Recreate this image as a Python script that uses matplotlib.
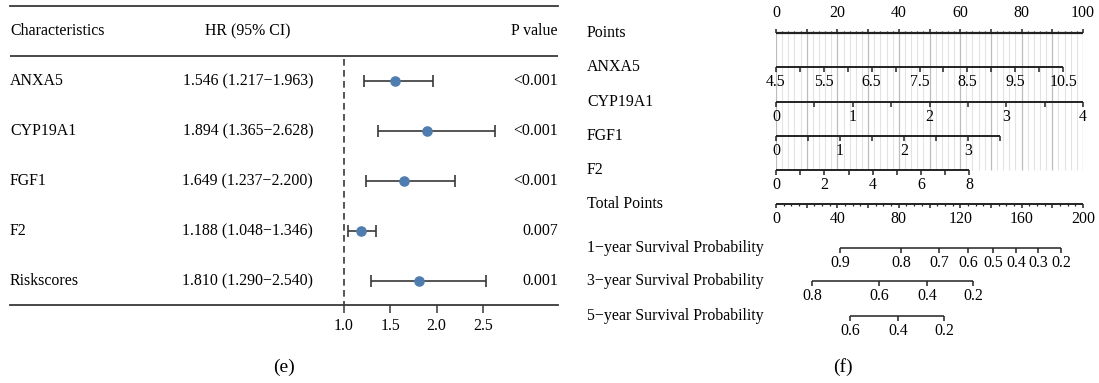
import numpy as np
import matplotlib.pyplot as plt
from matplotlib.transforms import blended_transform_factory

plt.rcParams['font.family'] = ['Liberation Serif', 'DejaVu Serif']

W, H = 1099, 383

# ---- forest plot data (e)
genes = ['ANXA5', 'CYP19A1', 'FGF1', 'F2', 'Riskscores']
hr = [1.546, 1.894, 1.649, 1.188, 1.810]
hr_low = [1.217, 1.365, 1.237, 1.048, 1.290]
hr_high = [1.963, 2.628, 2.200, 1.346, 2.540]
pvals = ['<0.001', '<0.001', '<0.001', '0.007', '0.001']
hr_ticks = [1.0, 1.5, 2.0, 2.5]

# ---- nomogram data (f)
points_labels = [0, 20, 40, 60, 80, 100]
anxa5_ticks = [4.5, 5.0, 5.5, 6.0, 6.5, 7.0, 7.5, 8.0, 8.5, 9.0, 9.5, 10.0, 10.5]
anxa5_labels = [4.5, 5.5, 6.5, 7.5, 8.5, 9.5, 10.5]
anxa5_maxpts = 93.5
cyp_ticks = [0, 0.5, 1, 1.5, 2, 2.5, 3, 3.5, 4]
cyp_labels = [0, 1, 2, 3, 4]
cyp_maxpts = 100
fgf1_ticks = [0, 0.5, 1, 1.5, 2, 2.5, 3, 3.5]
fgf1_labels = [0, 1, 2, 3]
fgf1_maxpts = 73
f2_ticks = [0, 1, 2, 3, 4, 5, 6, 7, 8]
f2_labels = [0, 2, 4, 6, 8]
f2_maxpts = 63
total_labels = [0, 40, 80, 120, 160, 200]
total_max = 200
surv1_prob = [0.9, 0.8, 0.7, 0.6, 0.5, 0.4, 0.3, 0.2]
surv1_total = [41.7, 81.4, 106.2, 125.0, 141.3, 156.3, 170.7, 185.7]
surv3_prob = [0.8, 0.6, 0.4, 0.2]
surv3_total = [23.5, 67.0, 98.4, 128.3]
surv5_prob = [0.6, 0.4, 0.2]
surv5_total = [48.2, 79.5, 109.4]

row_names = ['Points', 'ANXA5', 'CYP19A1', 'FGF1', 'F2', 'Total Points',
             '1\u2212year Survival Probability', '3\u2212year Survival Probability',
             '5\u2212year Survival Probability']

FS = 11.4
LC = '#383838'
DOT = '#4f7db0'

fig = plt.figure(figsize=(W / 100, H / 100), dpi=100)


def fbox(x0, y0, x1, y1):
  return [x0 / W, 1 - y1 / H, (x1 - x0) / W, (y1 - y0) / H]


# ================= (e) forest plot =================
ax1 = fig.add_axes(fbox(10, 6, 558, 305))
ax1.set_xlim(1 - 334 / 92.5, 1 + 214 / 92.5)
ax1.set_ylim(4.48, -1.5)
for s in ['left', 'right']:
  ax1.spines[s].set_visible(False)
for s in ['top', 'bottom']:
  ax1.spines[s].set_color(LC)
  ax1.spines[s].set_linewidth(1.3)
ax1.axhline(-0.5, color=LC, lw=1.3)
ax1.vlines(1.0, -0.45, 4.48, colors=LC, linestyles=(0, (4, 2.6)), lw=1.2)
rows = np.arange(len(genes))
hr_a = np.array(hr)
err = [hr_a - np.array(hr_low), np.array(hr_high) - hr_a]
ax1.errorbar(hr, rows, xerr=err, fmt='o', color=DOT, markersize=6.6,
             ecolor=LC, elinewidth=1.2, capsize=4.2, capthick=1.2, zorder=3)
ax1.set_yticks([])
ax1.set_xticks(hr_ticks)
ax1.set_xticklabels(['%.1f' % t for t in hr_ticks], fontsize=FS)
ax1.tick_params(axis='x', direction='out', length=5.5, width=1.1, color=LC, pad=4)

tr1 = blended_transform_factory(ax1.transAxes, ax1.transData)
ax1.text(0, -1, 'Characteristics', transform=tr1, fontsize=FS, va='center', ha='left')
ax1.text(0.434, -1, 'HR (95% CI)', transform=tr1, fontsize=FS, va='center', ha='center')
ax1.text(1, -1, 'P value', transform=tr1, fontsize=FS, va='center', ha='right')
for i, g in enumerate(genes):
  ax1.text(0, i, g, transform=tr1, fontsize=FS, va='center', ha='left')
  ax1.text(0.434, i, '%.3f (%.3f\u2212%.3f)' % (hr[i], hr_low[i], hr_high[i]),
           transform=tr1, fontsize=FS, va='center', ha='center')
  ax1.text(1, i, pvals[i], transform=tr1, fontsize=FS, va='center', ha='right')

fig.text(284 / W, 1 - 367 / H, '(e)', fontsize=14, ha='center', va='center')

# ================= (f) nomogram =================
ax2 = fig.add_axes(fbox(776, 0, 1083, H))
ax2.set_xlim(0, 100)
ax2.set_ylim(H, 0)
ax2.axis('off')

row_y = [33, 67, 102, 136, 170, 204, 248, 281, 316]

# grid lines
minor = [p for p in range(0, 101, 2) if p % 10]
major = list(range(0, 101, 10))
ax2.vlines(minor, row_y[0], row_y[4], colors='#e3e3e3', lw=0.8, zorder=0)
ax2.vlines(major, row_y[0], row_y[4], colors='#bdbdbd', lw=0.9, zorder=0)

trl = blended_transform_factory(fig.transFigure, ax2.transData)
for name, y in zip(row_names, row_y):
  ax2.text(587 / W, y, name, transform=trl, fontsize=FS, va='center', ha='left')


def scale_row(y, tick_pts, lab_pts, labels, tlen=5, up=False, lw=1.4, minor_pts=None):
  ax2.hlines(y, min(tick_pts + (minor_pts or [])), max(tick_pts + (minor_pts or [])),
             colors='#222222', lw=lw, clip_on=False)
  d = -1 if up else 1
  ax2.vlines(tick_pts, y, y + d * tlen, colors='#222222', lw=1.1, clip_on=False)
  if minor_pts:
    ax2.vlines(minor_pts, y, y + d * tlen * 0.6, colors='#222222', lw=0.9, clip_on=False)
  for p, l in zip(lab_pts, labels):
    ax2.text(p, y + (-20 if up else 15), l, fontsize=FS, ha='center', va='center',
             clip_on=False)


def to_pts(vals, ticks, maxpts):
  lo, hi = ticks[0], ticks[-1]
  return [(v - lo) / (hi - lo) * maxpts for v in vals]


# Points axis
scale_row(row_y[0], list(range(0, 101, 10)), points_labels, [str(p) for p in points_labels],
          tlen=4, up=True, lw=1.6, minor_pts=minor)
# variable axes
scale_row(row_y[1], to_pts(anxa5_ticks, anxa5_ticks, anxa5_maxpts),
          to_pts(anxa5_labels, anxa5_ticks, anxa5_maxpts), ['%g' % v for v in anxa5_labels])
scale_row(row_y[2], to_pts(cyp_ticks, cyp_ticks, cyp_maxpts),
          to_pts(cyp_labels, cyp_ticks, cyp_maxpts), ['%g' % v for v in cyp_labels])
scale_row(row_y[3], to_pts(fgf1_ticks, fgf1_ticks, fgf1_maxpts),
          to_pts(fgf1_labels, fgf1_ticks, fgf1_maxpts), ['%g' % v for v in fgf1_labels])
scale_row(row_y[4], to_pts(f2_ticks, f2_ticks, f2_maxpts),
          to_pts(f2_labels, f2_ticks, f2_maxpts), ['%g' % v for v in f2_labels])
# total points
tot = lambda v: [x / total_max * 100 for x in v]
scale_row(row_y[5], tot(list(range(0, 201, 20))), tot(total_labels),
          [str(v) for v in total_labels], tlen=4,
          minor_pts=tot([v for v in range(0, 201, 5) if v % 20]))
# survival
scale_row(row_y[6], tot(surv1_total), tot(surv1_total), ['%.1f' % p for p in surv1_prob], lw=1.1)
scale_row(row_y[7], tot(surv3_total), tot(surv3_total), ['%.1f' % p for p in surv3_prob], lw=1.1)
scale_row(row_y[8], tot(surv5_total), tot(surv5_total), ['%.1f' % p for p in surv5_prob], lw=1.1)

fig.text(843 / W, 1 - 367 / H, '(f)', fontsize=14, ha='center', va='center')

fig.savefig('out.png', dpi=100)
